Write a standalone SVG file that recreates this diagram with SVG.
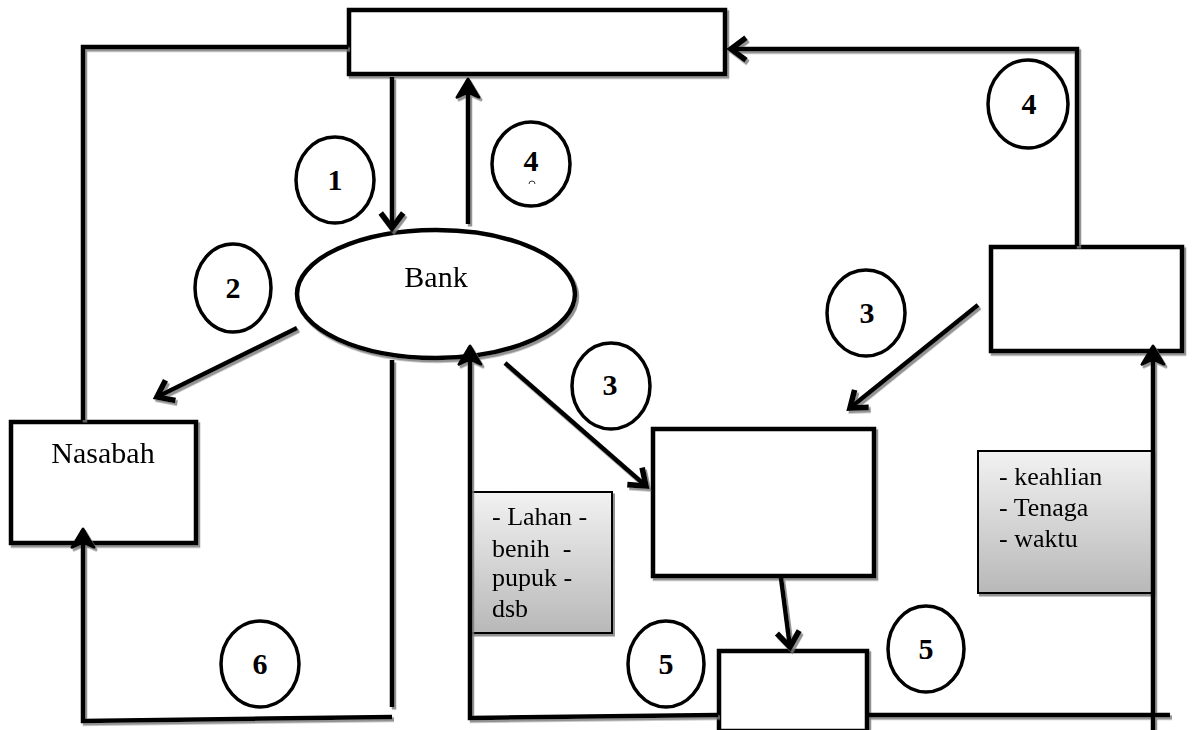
<svg xmlns="http://www.w3.org/2000/svg" width="1192" height="730" viewBox="0 0 1192 730">
<style>
.box{fill:#fff;stroke:#000;stroke-width:4.5}
.num{fill:#fff;stroke:#000;stroke-width:3.5}
.ln{fill:none;stroke:#000;stroke-width:4.5}
.t{font-family:"Liberation Serif","Times New Roman",serif;font-size:30px;fill:#000}
.l{font-family:"Liberation Serif","Times New Roman",serif;font-size:26px;fill:#000;white-space:pre}
.n{font-family:"Liberation Serif","Times New Roman",serif;font-size:30px;font-weight:bold;fill:#000;text-anchor:middle}
.gray{fill:url(#g);stroke:#000;stroke-width:2}
</style>
<defs>
<filter id="sh" x="-20%" y="-20%" width="140%" height="140%">
<feDropShadow dx="2" dy="2.5" stdDeviation="0.7" flood-color="#777" flood-opacity="0.8"/>
</filter>
<linearGradient id="g" x1="0" y1="0" x2="0" y2="1">
<stop offset="0" stop-color="#f2f2f2"/>
<stop offset="1" stop-color="#b8b8b8"/>
</linearGradient>
<marker id="open" markerUnits="userSpaceOnUse" markerWidth="30" markerHeight="30" viewBox="-16 -12 20 24" refX="0" refY="0" orient="auto">
<path d="M-12,-9 L0,0 L-12,9" fill="none" stroke="#000" stroke-width="4.5" stroke-linejoin="miter"/>
</marker>
<marker id="fill" markerUnits="userSpaceOnUse" markerWidth="30" markerHeight="30" viewBox="-18 -12 22 24" refX="0" refY="0" orient="auto">
<path d="M1,0 L-14,-9 L-10,0 L-14,9 Z" fill="#000" stroke="#000" stroke-width="2" stroke-linejoin="round"/>
</marker>
</defs>
<rect width="1192" height="730" fill="#fff"/>

<g id="top-box" filter="url(#sh)">
<rect class="box" x="349" y="10" width="376" height="64"/>
</g>
<g id="bank" filter="url(#sh)">
<ellipse class="box" cx="436" cy="294" rx="139" ry="64" stroke-width="4"/>
<text class="t" x="436" y="287" text-anchor="middle">Bank</text>
</g>
<g id="nasabah" filter="url(#sh)">
<rect class="box" x="11" y="422" width="185" height="121"/>
<text class="t" x="103" y="463" text-anchor="middle">Nasabah</text>
</g>
<g id="middle-box" filter="url(#sh)">
<rect class="box" x="653" y="429" width="221" height="147"/>
</g>
<g id="right-box" filter="url(#sh)">
<rect class="box" x="991" y="247" width="191" height="104"/>
</g>
<g id="small-box" filter="url(#sh)">
<rect class="box" x="719" y="651" width="148" height="80"/>
</g>

<g id="list-inputs" filter="url(#sh)">
<rect class="gray" x="470" y="492" width="142" height="141"/>
<text class="l" x="492" y="525">- Lahan -</text>
<text class="l" x="492" y="557">benih  -</text>
<text class="l" x="492" y="586">pupuk -</text>
<text class="l" x="492" y="617">dsb</text>
</g>
<g id="list-skills" filter="url(#sh)">
<rect class="gray" x="978" y="451" width="175" height="142"/>
<text class="l" x="999" y="485">- keahlian</text>
<text class="l" x="999" y="516">- Tenaga</text>
<text class="l" x="999" y="547">- waktu</text>
</g>

<g id="connectors" filter="url(#sh)">
<polyline class="ln" points="348,47 83,47 83,420"/>
<line class="ln" x1="392" y1="77" x2="392" y2="228" marker-end="url(#open)"/>
<line class="ln" x1="468" y1="224" x2="468" y2="80" marker-end="url(#fill)"/>
<line class="ln" x1="297" y1="328" x2="157" y2="397" marker-end="url(#open)"/>
<line class="ln" x1="505" y1="363" x2="646" y2="486" marker-end="url(#open)"/>
<line class="ln" x1="978" y1="305" x2="850" y2="408" marker-end="url(#open)"/>
<polyline class="ln" points="1077,246 1077,49 731,49" marker-end="url(#open)"/>
<line class="ln" x1="781" y1="578" x2="790" y2="647" marker-end="url(#open)"/>
<line class="ln" x1="392" y1="360" x2="392" y2="707"/>
<polyline class="ln" points="392,717 83,721 83,530" marker-end="url(#fill)"/>
<polyline class="ln" points="718,715 470,718 470,347" marker-end="url(#fill)"/>
<line class="ln" x1="868" y1="715" x2="1170" y2="715"/>
<line class="ln" x1="1153" y1="730" x2="1153" y2="347" marker-end="url(#fill)"/>
</g>

<g id="step1"><ellipse class="num" cx="335" cy="180" rx="39" ry="43"/><text class="n" x="335" y="190">1</text></g>
<g id="step4a"><ellipse class="num" cx="531" cy="164" rx="39" ry="42"/><text class="n" x="531" y="171">4</text><path d="M529,184 a3,3 0 0 1 6,0" fill="none" stroke="#000" stroke-width="0.8"/></g>
<g id="step2"><ellipse class="num" cx="233" cy="288" rx="38" ry="44"/><text class="n" x="233" y="298">2</text></g>
<g id="step4b"><ellipse class="num" cx="1028" cy="104" rx="40" ry="44"/><text class="n" x="1029" y="114">4</text></g>
<g id="step3a"><ellipse class="num" cx="611" cy="386" rx="39" ry="43"/><text class="n" x="610" y="395">3</text></g>
<g id="step3b"><ellipse class="num" cx="866" cy="313" rx="39" ry="43"/><text class="n" x="867" y="323">3</text></g>
<g id="step5a"><ellipse class="num" cx="666" cy="664" rx="38" ry="43"/><text class="n" x="666" y="674">5</text></g>
<g id="step5b"><ellipse class="num" cx="926" cy="649" rx="38" ry="43"/><text class="n" x="926" y="659">5</text></g>
<g id="step6"><ellipse class="num" cx="260" cy="664" rx="39" ry="43"/><text class="n" x="260" y="674">6</text></g>
</svg>
